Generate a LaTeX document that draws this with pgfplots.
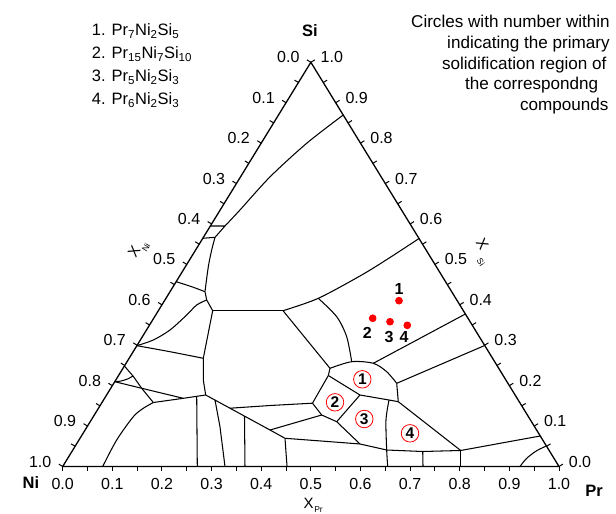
\documentclass[border=0pt]{standalone}
\usepackage{fontspec}
\setmainfont{Liberation Sans}
\usepackage{pgfplots}
\pgfplotsset{compat=1.18}
\usetikzlibrary{calc}
\pgfkeys{/pgf/number format/assume math mode=true}
\newcommand\tfont{\fontsize{16}{18}\selectfont}
\newcommand\lfont{\fontsize{16.5}{18}\selectfont}
\newcommand\afont{\fontsize{17.1}{18}\selectfont}
\begin{document}
\begin{tikzpicture}
\begin{axis}[scale only axis, width=496.3pt, height=404.2pt,
  xmin=0, xmax=1, ymin=0, ymax=1, axis lines=none, clip=false,
  cycle list={{black,mark=none,solid}},
  every axis plot/.append style={black, line width=1.05pt, line join=round, mark=none}]
% triangle (Ni = left, Pr = right, Si = top)
\addplot[line width=1.3pt] coordinates {(0,0) (1,0) (0.5,1) (0,0) (1,0)};
% phase boundary lines (x = X_Pr + X_Si/2, y = X_Si)
\addplot[smooth] coordinates {(0.5652,0.8696) (0.4916,0.7996) (0.4178,0.7166) (0.3572,0.6346) (0.3270,0.5950)};
\addplot coordinates {(0.2975,0.5950) (0.3270,0.5950) (0.3069,0.5670)};
\addplot coordinates {(0.2823,0.5646) (0.3069,0.5670)};
\addplot[smooth] coordinates {(0.3069,0.5670) (0.3002,0.5356) (0.2934,0.4943) (0.2867,0.4325)};
\addplot coordinates {(0.2867,0.4325) (0.2902,0.4119) (0.3022,0.3855)};
\addplot[smooth] coordinates {(0.2286,0.4572) (0.2599,0.4448) (0.2867,0.4325)};
\addplot[smooth] coordinates {(0.1494,0.2989) (0.1826,0.3130) (0.2162,0.3377) (0.2498,0.3748) (0.2700,0.3996) (0.2902,0.4119)};
\addplot coordinates {(0.3022,0.3855) (0.4439,0.3855)};
\addplot coordinates {(0.3022,0.3855) (0.2833,0.2677) (0.2833,0.2140) (0.2881,0.1769)};
\addplot[smooth] coordinates {(0.1494,0.2989) (0.2162,0.2840) (0.2833,0.2677)};
\addplot[smooth] coordinates {(0.4439,0.3855) (0.5150,0.4161) (0.6025,0.4738) (0.6595,0.5171) (0.7180,0.5641)};
\addplot[smooth] coordinates {(0.5150,0.4161) (0.5521,0.3706) (0.5722,0.3211) (0.5823,0.2593)};
\addplot coordinates {(0.4439,0.3855) (0.5386,0.2429)};
\addplot[smooth] coordinates {(0.5386,0.2429) (0.5823,0.2593) (0.6258,0.2553) (0.6528,0.2345) (0.6730,0.2058)};
\addplot coordinates {(0.6258,0.2553) (0.8114,0.3773)};
\addplot coordinates {(0.6730,0.2058) (0.8503,0.2994)};
\addplot coordinates {(0.6730,0.2058) (0.6762,0.1603)};
\addplot coordinates {(0.5386,0.2429) (0.5352,0.2251)};
\addplot coordinates {(0.5352,0.2251) (0.5990,0.1769) (0.6575,0.1645) (0.6762,0.1603)};
\addplot coordinates {(0.5352,0.2251) (0.5033,0.1566)};
\addplot coordinates {(0.5990,0.1769) (0.5521,0.1108)};
\addplot coordinates {(0.5033,0.1566) (0.5219,0.1274) (0.5521,0.1108) (0.5990,0.0557)};
\addplot coordinates {(0.4177,0.0903) (0.5219,0.1274)};
\addplot coordinates {(0.2881,0.1769) (0.4177,0.0903) (0.4479,0.0698)};
\addplot coordinates {(0.4479,0.0698) (0.5386,0.0614) (0.5990,0.0557) (0.6528,0.0408) (0.7254,0.0371) (0.8019,0.0396)};
\addplot coordinates {(0.3371,0.1442) (0.4177,0.1509) (0.5033,0.1566)};
\addplot[smooth] coordinates {(0.6575,0.1645) (0.6514,0.1150) (0.6528,0.0408) (0.6548,0)};
\addplot coordinates {(0.6762,0.1603) (0.8019,0.0396)};
\addplot coordinates {(0.8019,0.0396) (0.9623,0.0755)};
\addplot coordinates {(0.8019,0.0396) (0.8019,0)};
\addplot coordinates {(0.7254,0.0371) (0.7260,0)};
\addplot[smooth] coordinates {(0.9214,0) (0.9349,0.0203) (0.9551,0.0391) (0.9746,0.0507)};
\addplot coordinates {(0.3069,0.1643) (0.3169,0.0985) (0.3270,0)};
\addplot coordinates {(0.3663,0.1247) (0.3673,0)};
\addplot coordinates {(0.4479,0.0698) (0.4520,0)};
\addplot coordinates {(0.2700,0.1736) (0.2712,0)};
\addplot coordinates {(0.1592,0.1935) (0.2430,0.1687) (0.2881,0.1769)};
\addplot coordinates {(0.1826,0.1583) (0.2430,0.1687)};
\addplot coordinates {(0.1592,0.1935) (0.1826,0.1583)};
\addplot[smooth] coordinates {(0.0806,0) (0.1088,0.0656) (0.1423,0.1232) (0.1624,0.1440) (0.1826,0.1583)};
\addplot coordinates {(0.1049,0.2098) (0.1592,0.1935)};
\addplot coordinates {(0.1243,0.2486) (0.1417,0.2239) (0.1592,0.1935)};
\addplot[smooth] coordinates {(0.1049,0.2098) (0.1175,0.2115) (0.1306,0.2165) (0.1417,0.2239)};
% compositions of the compounds
\addplot[only marks, mark=*, mark size=3.3pt, red, mark options={draw=red, fill=red}] coordinates {(0.6776,0.4102) (0.6246,0.3667) (0.6595,0.3582) (0.6943,0.3493)};
\node[font=\bfseries\tfont] at (axis cs:0.6776,0.4384) {1};
\node[font=\bfseries\tfont] at (axis cs:0.6137,0.3295) {2};
\node[font=\bfseries\tfont] at (axis cs:0.6575,0.3211) {3};
\node[font=\bfseries\tfont] at (axis cs:0.6877,0.3211) {4};
% primary solidification regions
\tikzset{circlab/.style={draw=red, circle, inner sep=0pt, minimum size=17.5pt, line width=0.8pt, font=\bfseries\fontsize{15.5}{16}\selectfont}}
\node[circlab] at (axis cs:0.6037,0.2157) {1};
\node[circlab] at (axis cs:0.5487,0.1588) {2};
\node[circlab] at (axis cs:0.6077,0.1175) {3};
\node[circlab] at (axis cs:0.6998,0.0821) {4};
\coordinate (Ni) at (axis cs:0,0);
\coordinate (Pr) at (axis cs:1,0);
\coordinate (Si) at (axis cs:0.5,1);
\end{axis}
% ticks
\foreach \i in {0,...,20} {
  \pgfmathsetmacro\t{\i/20}
  \draw[line width=1pt] ($(Ni)!\t!(Pr)$) -- ++(0,-4.5pt);
  \draw[line width=1pt] ($(Ni)!\t!(Si)$) -- ++(-3.9pt,2.4pt);
  \draw[line width=1pt] ($(Pr)!\t!(Si)$) -- ++(3.9pt,2.4pt);
}
\foreach \i in {0,...,10} {
  \pgfmathsetmacro\t{\i/10}
  \pgfmathsetmacro\u{1-\i/10}
  \node[font=\tfont] at ($(Ni)!\t!(Pr)+(0,-17.5pt)$) {\pgfmathprintnumber[fixed,fixed zerofill,precision=1]{\t}};
  \node[font=\tfont] at ($(Ni)!\t!(Si)+(-22.5pt,5pt)$) {\pgfmathprintnumber[fixed,fixed zerofill,precision=1]{\u}};
  \node[font=\tfont] at ($(Pr)!\t!(Si)+(21pt,5pt)$) {\pgfmathprintnumber[fixed,fixed zerofill,precision=1]{\t}};
}
% texts placed in image pixel units
\begin{scope}[shift={($(Ni)+(-62.7pt,466.5pt)$)}, x=1pt, y=-1pt]
\node[font=\bfseries\lfont] at (31,483) {Ni};
\node[font=\bfseries\lfont] at (594,491) {Pr};
\node[font=\bfseries\lfont] at (310,30.5) {Si};
% axis titles: X with a small subscript
\node[font=\fontsize{15}{15}\selectfont, inner sep=0pt] at (308.5,503) {X};
\node[font=\fontsize{8.5}{9}\selectfont, inner sep=0pt] at (318.5,510) {Pr};
\node[font=\fontsize{15}{15}\selectfont, inner sep=0pt, rotate=58.45] at (134,251.5) {X};
\node[font=\fontsize{8.5}{9}\selectfont, inner sep=0pt, rotate=58.45] at (146,247.5) {Ni};
\node[font=\fontsize{15}{15}\selectfont, inner sep=0pt, rotate=-58.45] at (482.5,244.5) {X};
\node[font=\fontsize{8.5}{9}\selectfont, inner sep=0pt, rotate=-58.45] at (481,262.5) {Si};
\node[anchor=base west, font=\lfont] at (88.3,36) {1. Pr\textsubscript{7}Ni\textsubscript{2}Si\textsubscript{5}};
\node[anchor=base west, font=\lfont] at (88.3,59) {2. Pr\textsubscript{15}Ni\textsubscript{7}Si\textsubscript{10}};
\node[anchor=base west, font=\lfont] at (88.3,82) {3. Pr\textsubscript{5}Ni\textsubscript{2}Si\textsubscript{3}};
\node[anchor=base west, font=\lfont] at (88.3,105) {4. Pr\textsubscript{6}Ni\textsubscript{2}Si\textsubscript{3}};
\node[anchor=base east, font=\afont] at (613.3,27.5) {Circles with number within};
\node[anchor=base east, font=\afont] at (613.3,48.5) {indicating the primary};
\node[anchor=base east, font=\afont] at (610,69.5) {solidification region of};
\node[anchor=base east, font=\afont] at (601.7,90) {the correspondng};
\node[anchor=base east, font=\afont] at (612,111) {compounds};
\end{scope}
\pgfresetboundingbox
\path[use as bounding box] ($(Ni)+(-62.7pt,-47.5pt)$) rectangle ($(Ni)+(553.3pt,466.5pt)$);
\end{tikzpicture}
\end{document}
